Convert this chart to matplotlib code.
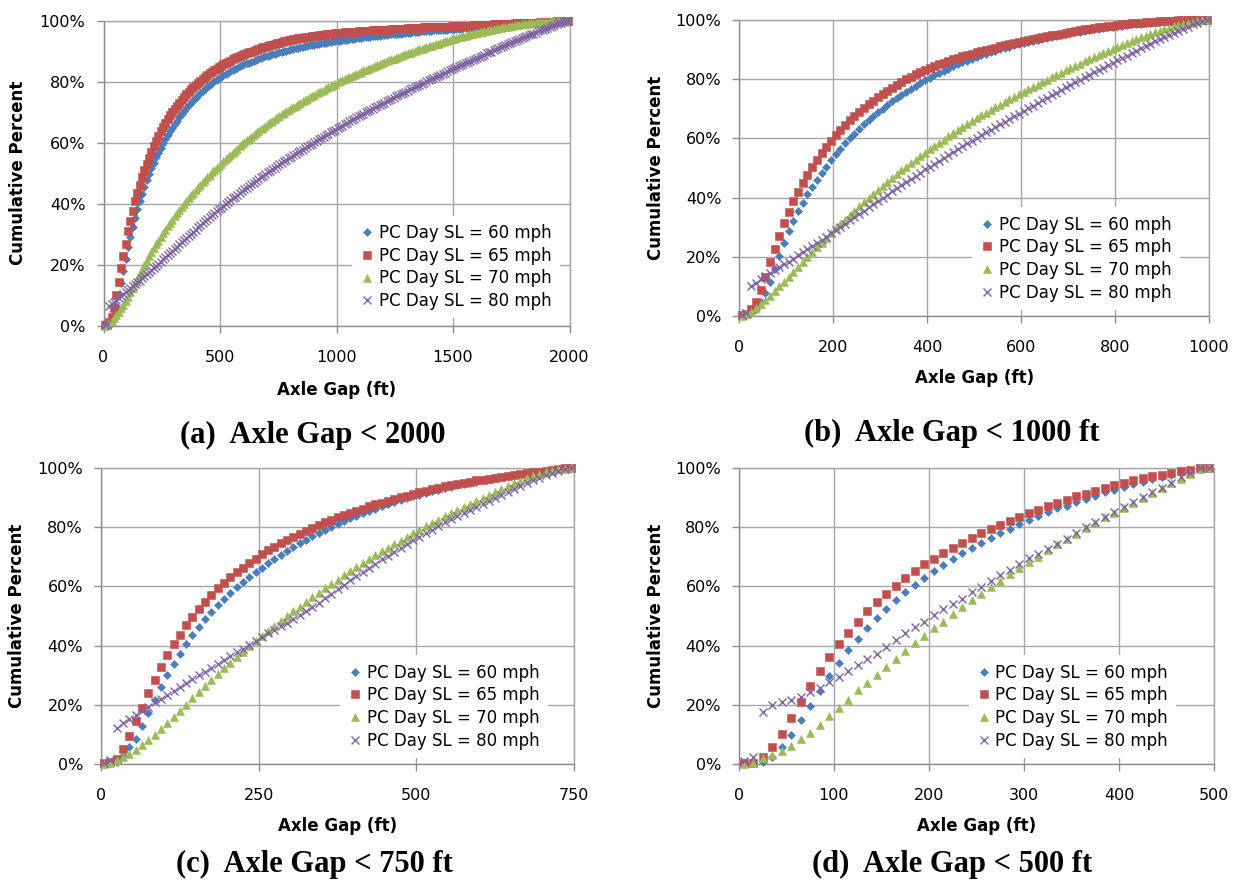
import numpy as np
import matplotlib
matplotlib.use("Agg")
import matplotlib.pyplot as plt
from matplotlib.ticker import FuncFormatter

# series labels and Excel-2007 style colours / markers
labels = ["PC Day SL = 60 mph", "PC Day SL = 65 mph", "PC Day SL = 70 mph", "PC Day SL = 80 mph"]
colors = ["#4A7EBB", "#C0504D", "#9BBB59", "#8064A2"]
markers = ["D", "s", "^", "x"]
msizes = [4.4, 6.2, 6.4, 6.0]

# cumulative percent, one value per 10 ft bin (bin centres 5, 15, 25, ...)
# (a) axle gap < 2000
a_60 = [0.1, 0.2, 0.6, 1.5, 3.5, 6.5, 10.0, 14.0, 18.0, 22.0,
        25.8, 29.3, 32.5, 35.5, 38.3, 40.9, 43.3, 45.6, 47.8, 49.8,
        51.7, 53.5, 55.2, 56.8, 58.3, 59.8, 61.2, 62.5, 63.8, 65.0,
        66.2, 67.3, 68.4, 69.4, 70.4, 71.4, 72.3, 73.2, 74.0, 74.8,
        75.6, 76.3, 77.0, 77.7, 78.3, 78.9, 79.5, 80.1, 80.6, 81.1,
        81.6, 82.1, 82.6, 83.0, 83.4, 83.8, 84.2, 84.6, 85.0, 85.4,
        85.7, 86.0, 86.3, 86.6, 86.9, 87.2, 87.5, 87.8, 88.0, 88.3,
        88.5, 88.8, 89.0, 89.2, 89.4, 89.6, 89.8, 90.0, 90.2, 90.4,
        90.6, 90.8, 90.9, 91.1, 91.3, 91.4, 91.6, 91.7, 91.9, 92.0,
        92.2, 92.3, 92.4, 92.6, 92.7, 92.8, 92.9, 93.1, 93.2, 93.3,
        93.4, 93.5, 93.6, 93.7, 93.8, 93.9, 94.0, 94.1, 94.2, 94.3,
        94.4, 94.5, 94.6, 94.7, 94.8, 94.9, 95.0, 95.0, 95.1, 95.2,
        95.3, 95.4, 95.5, 95.5, 95.6, 95.7, 95.8, 95.8, 95.9, 96.0,
        96.1, 96.1, 96.2, 96.3, 96.3, 96.4, 96.5, 96.5, 96.6, 96.7,
        96.7, 96.8, 96.8, 96.9, 97.0, 97.0, 97.1, 97.1, 97.2, 97.2,
        97.3, 97.3, 97.4, 97.4, 97.5, 97.5, 97.6, 97.6, 97.7, 97.7,
        97.8, 97.8, 97.9, 97.9, 98.0, 98.0, 98.1, 98.1, 98.2, 98.2,
        98.3, 98.3, 98.4, 98.4, 98.5, 98.5, 98.6, 98.6, 98.7, 98.8,
        98.8, 98.9, 98.9, 99.0, 99.1, 99.1, 99.2, 99.3, 99.3, 99.4,
        99.5, 99.5, 99.6, 99.7, 99.7, 99.8, 99.9, 99.9, 100.0, 100.0]
a_65 = [0.2, 0.4, 1.2, 3.0, 6.0, 10.0, 14.5, 19.0, 23.0, 27.0,
        31.0, 34.5, 37.8, 40.8, 43.6, 46.2, 48.7, 51.0, 53.1, 55.1,
        57.0, 58.9, 60.7, 62.3, 63.8, 65.2, 66.5, 67.8, 69.0, 70.1,
        71.2, 72.2, 73.2, 74.1, 75.0, 75.9, 76.7, 77.5, 78.3, 79.0,
        79.7, 80.4, 81.0, 81.6, 82.2, 82.8, 83.3, 83.8, 84.3, 84.8,
        85.3, 85.7, 86.1, 86.5, 86.9, 87.3, 87.7, 88.0, 88.4, 88.7,
        89.0, 89.3, 89.6, 89.9, 90.2, 90.5, 90.8, 91.0, 91.3, 91.5,
        91.8, 92.0, 92.2, 92.4, 92.6, 92.8, 93.0, 93.2, 93.4, 93.6,
        93.7, 93.9, 94.0, 94.2, 94.3, 94.4, 94.6, 94.7, 94.8, 94.9,
        95.0, 95.1, 95.2, 95.3, 95.4, 95.5, 95.6, 95.7, 95.8, 95.9,
        96.0, 96.1, 96.1, 96.2, 96.2, 96.3, 96.3, 96.4, 96.4, 96.5,
        96.5, 96.6, 96.6, 96.7, 96.7, 96.8, 96.8, 96.9, 96.9, 97.0,
        97.0, 97.1, 97.1, 97.2, 97.2, 97.3, 97.3, 97.3, 97.4, 97.4,
        97.5, 97.5, 97.6, 97.6, 97.6, 97.7, 97.7, 97.8, 97.8, 97.8,
        97.9, 97.9, 97.9, 98.0, 98.0, 98.0, 98.1, 98.1, 98.1, 98.2,
        98.2, 98.2, 98.3, 98.3, 98.3, 98.4, 98.4, 98.4, 98.5, 98.5,
        98.5, 98.6, 98.6, 98.6, 98.7, 98.7, 98.7, 98.8, 98.8, 98.8,
        98.9, 98.9, 98.9, 99.0, 99.0, 99.0, 99.1, 99.1, 99.1, 99.2,
        99.2, 99.2, 99.3, 99.3, 99.4, 99.4, 99.4, 99.5, 99.5, 99.6,
        99.6, 99.6, 99.7, 99.7, 99.8, 99.8, 99.9, 99.9, 100.0, 100.0]
a_70 = [0.1, 0.4, 1.0, 1.7, 2.6, 3.6, 4.7, 5.8, 7.0, 8.2,
        9.5, 11.0, 12.5, 14.0, 15.5, 17.0, 18.5, 20.0, 21.4, 22.8,
        24.1, 25.4, 26.7, 27.9, 29.1, 30.3, 31.5, 32.6, 33.7, 34.8,
        35.9, 37.0, 38.0, 39.0, 40.0, 41.0, 41.9, 42.8, 43.7, 44.6,
        45.5, 46.3, 47.1, 47.9, 48.7, 49.5, 50.3, 51.1, 51.8, 52.5,
        53.2, 53.9, 54.6, 55.3, 56.0, 56.7, 57.4, 58.1, 58.8, 59.5,
        60.2, 60.8, 61.4, 62.0, 62.6, 63.2, 63.8, 64.4, 65.0, 65.6,
        66.2, 66.7, 67.2, 67.8, 68.3, 68.8, 69.3, 69.8, 70.3, 70.8,
        71.3, 71.8, 72.2, 72.7, 73.1, 73.6, 74.0, 74.5, 74.9, 75.4,
        75.8, 76.2, 76.6, 77.0, 77.4, 77.8, 78.2, 78.6, 79.0, 79.4,
        79.8, 80.2, 80.5, 80.9, 81.3, 81.6, 82.0, 82.3, 82.7, 83.0,
        83.3, 83.7, 84.0, 84.3, 84.6, 84.9, 85.2, 85.5, 85.8, 86.1,
        86.4, 86.7, 87.0, 87.3, 87.6, 87.9, 88.2, 88.5, 88.7, 89.0,
        89.3, 89.5, 89.8, 90.1, 90.3, 90.6, 90.8, 91.1, 91.3, 91.6,
        91.8, 92.1, 92.3, 92.5, 92.8, 93.0, 93.2, 93.4, 93.7, 93.9,
        94.1, 94.3, 94.5, 94.7, 94.9, 95.1, 95.3, 95.5, 95.7, 95.9,
        96.1, 96.2, 96.4, 96.6, 96.7, 96.9, 97.1, 97.2, 97.4, 97.5,
        97.7, 97.8, 98.0, 98.1, 98.2, 98.4, 98.5, 98.6, 98.7, 98.8,
        98.9, 99.0, 99.1, 99.2, 99.3, 99.4, 99.5, 99.5, 99.6, 99.7,
        99.7, 99.8, 99.8, 99.9, 99.9, 99.9, 100.0, 100.0, 100.0, 100.0]
a_80 = [0.3, 0.8, 6.5, 7.2, 7.9, 8.5, 9.1, 9.8, 10.4, 11.0,
        11.7, 12.3, 13.0, 13.6, 14.3, 14.9, 15.6, 16.3, 16.9, 17.6,
        18.3, 19.0, 19.7, 20.4, 21.1, 21.8, 22.5, 23.2, 23.9, 24.6,
        25.3, 26.0, 26.7, 27.4, 28.1, 28.8, 29.5, 30.2, 30.9, 31.6,
        32.3, 33.0, 33.7, 34.3, 35.0, 35.6, 36.3, 36.9, 37.6, 38.2,
        38.8, 39.4, 40.0, 40.6, 41.2, 41.8, 42.4, 43.0, 43.6, 44.2,
        44.8, 45.3, 45.9, 46.5, 47.0, 47.6, 48.1, 48.7, 49.2, 49.8,
        50.3, 50.8, 51.4, 51.9, 52.4, 52.9, 53.4, 53.9, 54.4, 54.9,
        55.4, 55.9, 56.4, 56.9, 57.4, 57.8, 58.3, 58.8, 59.3, 59.7,
        60.2, 60.7, 61.1, 61.6, 62.0, 62.5, 62.9, 63.4, 63.8, 64.3,
        64.7, 65.2, 65.6, 66.1, 66.5, 67.0, 67.4, 67.8, 68.3, 68.7,
        69.1, 69.5, 70.0, 70.4, 70.8, 71.2, 71.6, 72.0, 72.4, 72.8,
        73.2, 73.6, 74.0, 74.4, 74.8, 75.2, 75.6, 76.0, 76.3, 76.7,
        77.1, 77.5, 77.9, 78.2, 78.6, 79.0, 79.4, 79.7, 80.1, 80.5,
        80.8, 81.2, 81.6, 81.9, 82.3, 82.6, 83.0, 83.4, 83.7, 84.1,
        84.4, 84.8, 85.1, 85.5, 85.8, 86.2, 86.5, 86.9, 87.2, 87.6,
        87.9, 88.2, 88.6, 88.9, 89.3, 89.6, 89.9, 90.3, 90.6, 90.9,
        91.3, 91.6, 91.9, 92.3, 92.6, 92.9, 93.2, 93.6, 93.9, 94.2,
        94.5, 94.9, 95.2, 95.5, 95.8, 96.1, 96.5, 96.8, 97.1, 97.4,
        97.7, 98.0, 98.3, 98.6, 98.9, 99.2, 99.4, 99.6, 99.8, 100.0]

# (b) axle gap < 1000 ft
b_60 = [0.1, 0.3, 0.9, 2.3, 4.7, 7.9, 11.5, 16.0, 20.4, 24.7,
        28.6, 32.2, 35.4, 38.3, 41.1, 43.6, 46.0, 48.3, 50.5, 52.6,
        54.6, 56.5, 58.3, 60.0, 61.6, 63.2, 64.7, 66.1, 67.5, 68.8,
        70.1, 71.3, 72.5, 73.6, 74.7, 75.8, 76.8, 77.8, 78.7, 79.6,
        80.5, 81.3, 82.1, 82.9, 83.6, 84.3, 85.0, 85.7, 86.3, 86.9,
        87.5, 88.1, 88.6, 89.1, 89.6, 90.1, 90.6, 91.0, 91.4, 91.8,
        92.2, 92.6, 93.0, 93.3, 93.7, 94.0, 94.3, 94.6, 94.9, 95.2,
        95.5, 95.8, 96.1, 96.4, 96.6, 96.9, 97.1, 97.3, 97.5, 97.7,
        97.9, 98.1, 98.3, 98.5, 98.6, 98.8, 98.9, 99.0, 99.2, 99.3,
        99.4, 99.5, 99.6, 99.7, 99.8, 99.9, 99.95, 100.0, 100.0, 100.0]
b_65 = [0.2, 0.6, 2.3, 4.8, 8.7, 13.3, 18.2, 22.8, 27.1, 31.4,
        35.3, 38.8, 41.9, 45.0, 47.8, 50.4, 52.7, 55.0, 57.1, 59.1,
        61.0, 62.9, 64.6, 66.1, 67.6, 68.9, 70.3, 71.5, 72.7, 73.9,
        75.0, 76.1, 77.1, 78.1, 79.0, 79.9, 80.8, 81.6, 82.4, 83.2,
        83.8, 84.4, 85.0, 85.6, 86.2, 86.7, 87.2, 87.7, 88.2, 88.6,
        89.1, 89.5, 89.9, 90.3, 90.7, 91.1, 91.5, 91.9, 92.3, 92.6,
        92.9, 93.3, 93.6, 93.9, 94.2, 94.5, 94.8, 95.1, 95.4, 95.7,
        96.0, 96.3, 96.6, 96.9, 97.1, 97.3, 97.5, 97.7, 97.9, 98.1,
        98.3, 98.5, 98.7, 98.9, 99.0, 99.1, 99.2, 99.3, 99.4, 99.5,
        99.6, 99.7, 99.8, 99.85, 99.9, 99.95, 100.0, 100.0, 100.0, 100.0]
b_70 = [0.1, 0.6, 1.5, 2.7, 4.0, 5.4, 6.9, 8.4, 10.0, 11.6,
        13.2, 14.9, 16.6, 18.3, 20.0, 21.6, 23.2, 24.8, 26.4, 28.0,
        29.6, 31.1, 32.6, 34.1, 35.6, 37.0, 38.4, 39.8, 41.2, 42.6,
        44.0, 45.3, 46.6, 47.9, 49.2, 50.4, 51.6, 52.8, 54.0, 55.2,
        56.3, 57.4, 58.5, 59.6, 60.7, 61.8, 62.8, 63.8, 64.8, 65.8,
        66.8, 67.8, 68.7, 69.6, 70.5, 71.4, 72.3, 73.2, 74.1, 75.0,
        75.8, 76.6, 77.4, 78.2, 79.0, 79.8, 80.6, 81.4, 82.2, 83.0,
        83.8, 84.6, 85.3, 86.0, 86.7, 87.4, 88.1, 88.8, 89.5, 90.2,
        90.9, 91.6, 92.3, 92.9, 93.5, 94.1, 94.7, 95.3, 95.9, 96.4,
        96.9, 97.4, 97.9, 98.3, 98.7, 99.1, 99.4, 99.7, 99.9, 100.0]
b_80 = [0.5, 1.0, 10.2, 11.3, 12.4, 13.4, 14.4, 15.4, 16.4, 17.4,
        18.4, 19.4, 20.5, 21.5, 22.5, 23.6, 24.6, 25.7, 26.8, 27.9,
        29.0, 30.1, 31.2, 32.3, 33.4, 34.5, 35.6, 36.7, 37.8, 38.8,
        39.9, 41.0, 42.1, 43.1, 44.2, 45.3, 46.3, 47.4, 48.4, 49.5,
        50.5, 51.5, 52.5, 53.5, 54.4, 55.4, 56.3, 57.3, 58.3, 59.2,
        60.2, 61.1, 62.0, 62.9, 63.8, 64.8, 65.7, 66.6, 67.5, 68.4,
        69.3, 70.2, 71.1, 72.0, 72.9, 73.8, 74.6, 75.5, 76.3, 77.2,
        78.0, 78.9, 79.7, 80.6, 81.4, 82.3, 83.1, 83.9, 84.8, 85.6,
        86.4, 87.2, 88.0, 88.8, 89.6, 90.4, 91.2, 92.0, 92.8, 93.6,
        94.3, 95.0, 95.7, 96.4, 97.1, 97.8, 98.5, 99.1, 99.6, 100.0]

# (c) axle gap < 750 ft
c_60 = [0.0, 0.2, 0.8, 2.8, 5.6, 8.5, 13.0, 17.2, 21.5, 26.0,
        29.9, 33.9, 37.3, 40.7, 43.5, 46.3, 48.9, 51.4, 53.7, 55.7,
        57.9, 59.9, 61.6, 63.3, 65.0, 66.3, 67.8, 69.2, 70.6, 71.9,
        73.2, 74.5, 75.8, 77.0, 78.1, 79.2, 80.2, 81.2, 82.1, 83.0,
        83.9, 84.7, 85.5, 86.3, 87.0, 87.7, 88.4, 89.1, 89.8, 90.4,
        91.0, 91.6, 92.2, 92.7, 93.2, 93.7, 94.2, 94.6, 95.0, 95.4,
        95.8, 96.2, 96.5, 96.9, 97.2, 97.5, 97.8, 98.1, 98.4, 98.7,
        99.0, 99.3, 99.6, 99.9, 100.0]
c_65 = [0.3, 0.8, 1.7, 5.1, 9.3, 14.4, 19.0, 24.0, 28.5, 32.7,
        36.7, 40.5, 43.7, 46.9, 49.7, 52.5, 54.8, 57.1, 59.3, 61.2,
        63.1, 64.7, 66.1, 67.8, 69.3, 70.8, 72.3, 73.4, 74.6, 75.7,
        76.8, 77.8, 78.8, 79.8, 80.7, 81.6, 82.5, 83.3, 84.1, 84.9,
        85.6, 86.3, 87.0, 87.7, 88.3, 88.9, 89.5, 90.1, 90.7, 91.3,
        91.8, 92.3, 92.8, 93.3, 93.8, 94.2, 94.6, 95.0, 95.4, 95.8,
        96.1, 96.4, 96.7, 97.0, 97.3, 97.6, 97.9, 98.2, 98.5, 98.8,
        99.1, 99.4, 99.7, 99.9, 100.0]
c_70 = [0.1, 0.5, 1.2, 2.2, 3.4, 4.8, 6.4, 8.1, 9.9, 11.8,
        13.8, 15.9, 18.0, 20.1, 22.2, 24.3, 26.3, 28.3, 30.3, 32.3,
        34.2, 36.1, 38.0, 39.8, 41.6, 43.3, 45.0, 46.7, 48.4, 50.0,
        51.6, 53.2, 54.8, 56.3, 57.8, 59.3, 60.8, 62.3, 63.7, 65.1,
        66.5, 67.9, 69.2, 70.5, 71.8, 73.1, 74.3, 75.5, 76.7, 77.9,
        79.1, 80.3, 81.5, 82.6, 83.7, 84.8, 85.8, 86.8, 87.8, 88.8,
        89.8, 90.8, 91.8, 92.8, 93.8, 94.8, 95.7, 96.5, 97.3, 98.0,
        98.6, 99.1, 99.5, 99.8, 100.0]
c_80 = [0.5, 1.2, 12.2, 13.8, 15.2, 16.6, 18.0, 19.4, 20.8, 22.1,
        23.4, 24.7, 26.0, 27.3, 28.6, 29.9, 31.2, 32.5, 33.8, 35.1,
        36.4, 37.7, 39.0, 40.3, 41.6, 42.9, 44.1, 45.3, 46.5, 47.7,
        49.0, 50.3, 51.7, 53.1, 54.5, 56.0, 57.5, 59.0, 60.5, 62.0,
        63.5, 64.9, 66.3, 67.7, 69.1, 70.4, 71.7, 73.0, 74.3, 75.6,
        76.8, 78.0, 79.2, 80.4, 81.6, 82.7, 83.8, 84.9, 85.9, 86.9,
        87.9, 88.9, 89.9, 90.9, 91.9, 92.9, 93.9, 94.9, 95.8, 96.7,
        97.5, 98.3, 99.0, 99.6, 100.0]

# (d) axle gap < 500 ft
d_60 = [0.2, 0.3, 0.6, 2.3, 5.6, 9.8, 14.7, 19.5, 24.6, 29.6,
        34.2, 38.4, 42.3, 46.0, 49.4, 52.5, 55.4, 58.0, 60.5, 63.0,
        65.2, 67.2, 69.3, 71.2, 73.1, 74.8, 76.4, 78.0, 79.4, 81.0,
        82.4, 83.7, 85.1, 86.4, 87.3, 88.5, 89.6, 90.7, 91.8, 92.7,
        93.6, 94.5, 95.3, 96.2, 97.0, 97.7, 98.5, 99.1, 99.8, 100.0]
d_65 = [0.3, 0.5, 2.3, 5.6, 10.2, 15.6, 20.9, 26.3, 31.3, 36.2,
        40.5, 44.4, 48.0, 51.8, 54.8, 57.6, 60.2, 62.9, 65.3, 67.5,
        69.4, 71.2, 72.9, 74.6, 76.3, 78.0, 79.4, 80.8, 82.1, 83.5,
        84.7, 85.9, 87.0, 88.1, 89.3, 90.4, 91.3, 92.3, 93.2, 94.1,
        95.0, 95.8, 96.5, 97.2, 97.7, 98.3, 98.9, 99.4, 100.0, 100.0]
d_70 = [0.1, 0.2, 2.0, 3.2, 4.5, 6.1, 8.4, 10.5, 13.3, 16.2,
        18.9, 21.7, 24.9, 27.5, 30.1, 32.8, 35.5, 38.2, 40.9, 43.4,
        46.0, 48.0, 50.6, 52.9, 55.3, 57.6, 59.7, 61.8, 64.1, 66.1,
        68.1, 70.1, 72.2, 74.2, 76.0, 77.7, 79.7, 81.5, 83.3, 84.7,
        86.4, 88.1, 89.8, 91.5, 93.2, 94.9, 96.4, 98.1, 99.8, 100.0]
d_80 = [1.1, 2.5, 17.5, 20.0, 20.9, 21.7, 22.8, 24.3, 25.8, 27.7,
        29.4, 31.3, 33.3, 35.6, 37.3, 39.5, 41.8, 44.1, 46.3, 48.0,
        50.3, 52.3, 54.2, 55.9, 58.0, 59.9, 61.8, 63.8, 65.5, 67.5,
        69.5, 70.8, 72.5, 74.2, 76.0, 78.0, 79.9, 81.6, 83.3, 85.0,
        86.7, 88.4, 90.1, 91.8, 93.4, 95.1, 96.8, 98.4, 100.0, 100.0]

ticks_a = [0, 500, 1000, 1500, 2000]
ticks_b = [0, 200, 400, 600, 800, 1000]
ticks_c = [0, 250, 500, 750]
ticks_d = [0, 100, 200, 300, 400, 500]

W, H = 1239, 886
fig = plt.figure(figsize=(W / 100, H / 100), dpi=100)
grid_col = "#A6A6A6"


def px_rect(x0, y0, x1, y1):
    return [x0 / W, 1 - y1 / H, (x1 - x0) / W, (y1 - y0) / H]


def panel(rect, series, xmax, xticks, leg_xy, ylab_x):
    ax = fig.add_axes(rect)
    for y, c, m, s, lab in zip(series, colors, markers, msizes, labels):
        x = np.arange(5, 10 * len(y), 10)
        ax.plot(x, y, linestyle="none", marker=m, ms=s, color=c, mec=c,
                mew=1.0 if m == "x" else 0.4, label=lab, clip_on=False, zorder=3)
    ax.set_xlim(0, xmax)
    ax.set_ylim(0, 100)
    ax.set_xticks(xticks)
    ax.set_yticks([0, 20, 40, 60, 80, 100])
    ax.yaxis.set_major_formatter(FuncFormatter(lambda v, p: f"{v:.0f}%"))
    ax.grid(True, color=grid_col, lw=1.0)
    ax.set_axisbelow(True)
    for s in ax.spines.values():
        s.set_color(grid_col)
        s.set_linewidth(1.0)
    ax.spines["left"].set_color("#8C8C8C")
    ax.spines["bottom"].set_color("#8C8C8C")
    ax.tick_params(axis="both", length=5, width=1.0, color="#8C8C8C", labelsize=11.5)
    ax.tick_params(axis="x", pad=12)
    ax.tick_params(axis="y", pad=8)
    ax.set_xlabel("Axle Gap (ft)", fontsize=12, fontweight="bold")
    ax.set_ylabel("Cumulative Percent", fontsize=12, fontweight="bold")
    ax.xaxis.set_label_coords(0.5, -0.21)
    ax.xaxis.label.set_va("center")
    ax.yaxis.set_label_coords(ylab_x, 0.5)
    ax.yaxis.label.set_va("center")
    leg = ax.legend(loc="center", bbox_to_anchor=leg_xy, fontsize=12, frameon=True,
                    fancybox=False, edgecolor="none", facecolor="white", framealpha=1,
                    handlelength=0.8, handletextpad=0.3, labelspacing=0.28,
                    borderpad=0.5, markerscale=0.9)
    leg.set_zorder(5)
    return ax


panel(px_rect(103.5, 20.7, 569.5, 326), [a_60, a_65, a_70, a_80], 2000, ticks_a,
      (0.757, 0.193), -0.184)
panel(px_rect(739.4, 20, 1209, 316), [b_60, b_65, b_70, b_80], 1000, ticks_b,
      (0.717, 0.194), -0.178)
panel(px_rect(101, 468, 574, 764), [c_60, c_65, c_70, c_80], 750, ticks_c,
      (0.725, 0.194), -0.178)
panel(px_rect(739, 468, 1214, 764), [d_60, d_65, d_70, d_80], 500, ticks_d,
      (0.702, 0.194), -0.175)

titles = ["(a)  Axle Gap < 2000", "(b)  Axle Gap < 1000 ft",
          "(c)  Axle Gap < 750 ft", "(d)  Axle Gap < 500 ft"]
title_pos = [(313, 435), (952, 433), (314, 864), (952, 864)]
for t, (tx, ty) in zip(titles, title_pos):
    fig.text(tx / W, 1 - ty / H, t, ha="center", va="center",
             family="Liberation Serif", fontweight="bold", fontsize=22)

fig.savefig("out.png", dpi=100)
